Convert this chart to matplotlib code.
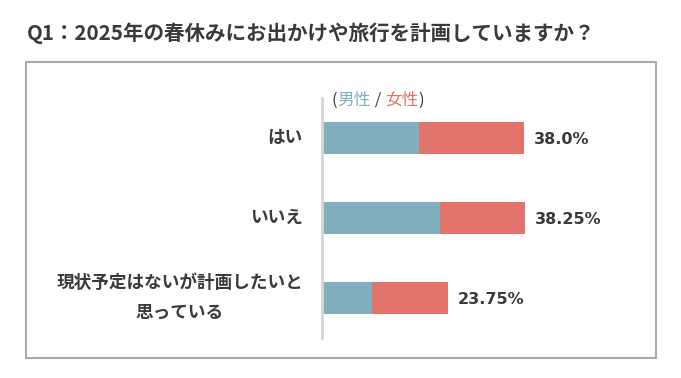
import matplotlib.pyplot as plt
from matplotlib.patches import Rectangle

plt.rcParams['font.family'] = ['Noto Sans CJK JP', 'DejaVu Sans']

# data
categories = ["はい", "いいえ", "現状予定はないが計画したいと\n思っている"]
male = [18.25, 22.25, 9.5]
female = [19.75, 16.0, 14.25]
totals = ["38.0%", "38.25%", "23.75%"]

c_male = "#80afbd"
c_female = "#e1736b"
c_text = "#3a3a3a"

fig = plt.figure(figsize=(6.81, 3.78), dpi=100)

# outer frame
fig.patches.append(Rectangle((0.0382, 0.0529), 0.925, 0.783, transform=fig.transFigure,
                             fill=False, edgecolor="#aaaaaa", linewidth=1.5))

fig.text(0.0396, 0.913, "Q1：2025年の春休みにお出かけや旅行を計画していますか？",
         fontsize=14.8, fontweight="bold", color=c_text, va="center", ha="left")

ax = fig.add_axes([0.4728, 0.1058, 0.4846, 0.635])
y = list(range(len(categories)))
ax.barh(y, male, height=0.39, color=c_male)
ax.barh(y, female, left=male, height=0.39, color=c_female)

for i, t in enumerate(totals):
    ax.annotate(t, xy=(male[i] + female[i], i), xytext=(10, 0), textcoords="offset pixels",
                va="center_baseline", ha="left", fontsize=11.5, fontweight="bold",
                color=c_text, family="DejaVu Sans")

# category labels (annotate so the line spacing can be set)
for i, c in enumerate(categories):
    ax.annotate(c, xy=(0, i), xycoords=ax.get_yaxis_transform(), xytext=(-19, 0),
                textcoords="offset pixels", ha="right", va="center", fontsize=12.7,
                fontweight="bold", color=c_text, multialignment="center", linespacing=1.85)

ax.set_xlim(0, 62.1)
ax.set_ylim(2.5, -0.5)
ax.set_yticks([])
ax.set_xticks([])
for s in ["top", "right", "bottom"]:
    ax.spines[s].set_visible(False)
ax.spines["left"].set_color("#d6d6d6")
ax.spines["left"].set_linewidth(2)

# legend as colored text
fs = 12
t1 = fig.text(0.4875, 0.7355, "(", fontsize=fs, color=c_text, va="center", ha="left")
t2 = ax.annotate("男性", xy=(1, 0.5), xycoords=t1, va="center", ha="left", fontsize=fs, color=c_male)
t3 = ax.annotate(" / ", xy=(1, 0.5), xycoords=t2, va="center", ha="left", fontsize=fs, color=c_text)
t4 = ax.annotate("女性", xy=(1, 0.5), xycoords=t3, va="center", ha="left", fontsize=fs, color=c_female)
ax.annotate(")", xy=(1, 0.5), xycoords=t4, va="center", ha="left", fontsize=fs, color=c_text)

plt.savefig("out.png", dpi=100)
